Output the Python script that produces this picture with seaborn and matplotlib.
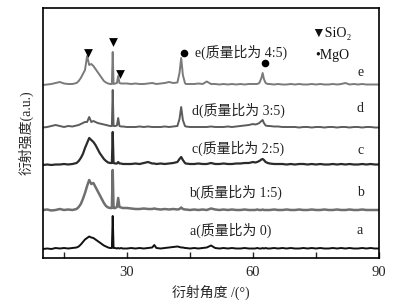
import numpy as np
import pandas as pd
import matplotlib
matplotlib.use("Agg")
import matplotlib.pyplot as plt
import seaborn as sns

# ---- data (2theta grid shared by all samples) ----
angles = ([10, 11, 12, 13, 14, 15, 16, 17, 18]
          + [18.5, 19, 19.5, 20, 20.5, 21, 21.5, 22, 22.5, 23, 23.5, 24, 24.5, 25, 25.5, 26]
          + [26.4, 26.6, 26.8]
          + [27.2, 27.6, 27.9, 28.2, 28.6, 29]
          + [30, 31, 32, 33, 34, 35, 36]
          + [36.5]
          + [37, 38, 39, 40, 41, 42]
          + [42.5, 42.9, 43.3, 43.8]
          + list(range(44, 61))
          + [60.5, 61, 61.5, 62, 62.3, 62.6, 63, 63.5]
          + list(range(64, 91)))

int_a = ([0, 0.5, 0, 1, 0.5, 1, 0.5, 1, 1.5]
         + [2.5, 4.5, 7, 9.5, 11, 12.5, 11.5, 11, 9.5, 8, 6.5, 5, 3.5, 2.5, 1.5, 1]
         + [1, 33, 1]
         + [1, 0.5, 1, 0.5, 1, 0.5]
         + [0.5, 1, 0.5, 1, 0.5, 1, 1.5]
         + [4]
         + [1, 0.5, 1, 1.5, 2, 2.5]
         + [2, 1.5, 1.5, 1]
         + [1, 0.5, 1, 0.5, 1, 1.5, 3.5, 1, 0.5, 1, 0.5, 1, 0.5, 0.5, 1, 0.5, 0.5]
         + [0.5, 1, 0.5, 0.5, 1, 0.5, 1, 0.5]
         + [0.5, 1, 0.5, 1, 0.5, 1, 0.5, 0.5, 1, 0.5, 1, 0.5, 1, 0.5, 0.5, 1, 0.5, 1,
            0.5, 1, 0.5, 0.5, 1, 0.5, 1, 0.5, 0.5])

int_b = ([1, 1.5, 0.5, 1, 2, 1, 1.5, 1, 2]
         + [4, 7, 12, 18, 25, 31, 27, 28, 24, 20, 16, 12, 8, 5, 3.5, 3]
         + [3, 41, 3]
         + [3, 4, 13, 4, 3.5, 3]
         + [3, 2.5, 2, 2, 2.5, 2, 2]
         + [2.5]
         + [2, 1.5, 2, 1.5, 2, 1.5]
         + [2, 3.5, 2, 1.5]
         + [1.5, 1, 1.5, 1, 1.5, 1, 2.5, 1.5, 1, 1.5, 1, 1.5, 1, 1, 1.5, 1, 1]
         + [1, 1.5, 1, 1, 1.5, 1, 1, 1]
         + [1, 1.5, 1, 1, 1.5, 1, 1, 1.5, 1, 1, 1.5, 1, 1, 1.5, 1, 1, 1.5, 1, 1, 1.5,
            1, 1, 1.5, 1, 1, 1, 1])

int_c = ([0, 0.5, 0, 0.5, 0.5, 1, 0.5, 1, 2]
         + [4, 7, 11, 17, 22, 27, 25, 23, 20, 16, 12, 9, 6, 4, 2.5, 2]
         + [2, 33, 2]
         + [1.5, 1.5, 3, 1.5, 1.5, 1]
         + [1, 1, 1.5, 1, 2, 3, 1.5]
         + [1.5]
         + [1, 1.5, 1, 1.5, 2, 3]
         + [6, 8, 5, 2]
         + [1.5, 1, 1, 1.5, 1, 1, 2, 1, 1, 1.5, 1, 1, 1.5, 1.5, 2, 2, 3]
         + [2.5, 3, 4, 5.5, 6, 5, 3, 2]
         + [1.5, 1, 1, 1, 0.5, 1, 0.5, 1, 1, 0.5, 1, 0.5, 1, 0.5, 0.5, 1, 0.5, 1,
            0.5, 1, 0.5, 0.5, 1, 0.5, 1, 0.5, 0.5])

int_d = ([0.5, 1, 2, 3, 2, 1, 2, 1.5, 2.5]
         + [3, 4, 5, 6, 6, 11, 6, 7, 6, 5, 4.5, 4, 3.5, 3, 2.5, 2]
         + [2, 38, 2]
         + [2, 2.5, 10, 2, 1.5, 1.5]
         + [1, 1, 1, 1.5, 1, 1.5, 1]
         + [1]
         + [1, 1, 1.5, 1, 1.5, 2]
         + [9, 21, 8, 2]
         + [1.5, 1, 1, 1, 1, 1, 1.5, 1, 1, 1, 1.5, 1, 1.5, 2, 2.5, 3, 4]
         + [3.5, 4, 5, 7, 8, 5, 2.5, 2]
         + [2, 1.5, 1.5, 1, 1, 1, 1, 0.5, 1, 1, 0.5, 1, 1, 0.5, 1, 1, 0.5, 1, 1,
            0.5, 1, 1, 0.5, 1, 1, 0.5, 0.5])

int_e = ([0, 0.5, 1, 2, 3, 1.5, 1, 1, 2]
         + [4, 7, 11, 15, 29, 20, 21, 19, 16, 13, 10, 7, 4, 2.5, 1.5, 1]
         + [1, 33, 1]
         + [1.5, 2, 9, 2, 1.5, 1.5]
         + [1.5, 1, 1.5, 1, 1, 1.5, 2]
         + [1.5]
         + [1, 1.5, 2, 3, 2, 2.5]
         + [12, 27, 10, 2]
         + [1, 1, 1, 1.5, 1, 3.5, 1, 1, 0.5, 1, 0.5, 1, 0.5, 1, 0.5, 1, 1]
         + [1, 1, 2, 7, 12, 6, 2, 1]
         + [1, 0.5, 1, 0.5, 0.5, 1, 0.5, 1, 0.5, 0.5, 1, 0.5, 1, 0.5, 0.5, 1, 0.5, 1,
            2, 0.5, 1, 0.5, 1, 0.5, 0.5, 0.5, 0.5])

samples = ["a", "b", "c", "d", "e"]
ratios = ["0", "1:5", "2:5", "3:5", "4:5"]
intensities = [int_a, int_b, int_c, int_d, int_e]
offsets = [9, 47, 93, 130, 173]
colors = ["#111111", "#6f6f6f", "#2b2b2b", "#5c5c5c", "#7a7a7a"]
linewidths = [1.4, 1.8, 1.6, 1.4, 1.4]

sio2_angles = [20.8, 26.6, 28.3]
sio2_levels = [205, 216, 184]
mgo_angles = [43.6, 62.8]
mgo_levels = [205, 195]

for arr in intensities:
    assert len(arr) == len(angles), len(arr)

rows = []
for s, vals, off in zip(samples, intensities, offsets):
    for x, v in zip(angles, vals):
        rows.append({"angle": x, "intensity": v + off, "sample": s})
df = pd.DataFrame(rows)

sns.set_style("ticks")
plt.rcParams["font.family"] = ["Liberation Serif", "Noto Sans CJK SC", "DejaVu Sans"]
mixed = ["Liberation Serif", "Noto Sans CJK SC", "DejaVu Sans"]

fig = plt.figure(figsize=(4.09, 3.02), dpi=100)
ax = fig.add_axes([43 / 409, 44 / 302, 336 / 409, 250 / 302])

for s, c, lw in zip(samples, colors, linewidths):
    sns.lineplot(data=df[df["sample"] == s], x="angle", y="intensity", color=c,
                 linewidth=lw, estimator=None, sort=False, ax=ax, legend=False)

ax.scatter(sio2_angles, sio2_levels, marker="v", s=40, color="black", zorder=5, linewidths=0)
ax.scatter(mgo_angles, mgo_levels, marker="o", s=30, color="black", zorder=5, linewidths=0)

label_x = [45.0, 44.8, 45.5, 45.5, 46.2]
label_y = [28, 66, 110, 148, 206]
right_y = [28, 66, 107, 150, 186]
for s, r, lx, ly, ry in zip(samples, ratios, label_x, label_y, right_y):
    ax.text(lx, ly, f"{s}(质量比为 {r})", fontsize=10, family=mixed,
            ha="left", va="center", color="#222222")
    ax.text(85.5, ry, s, fontsize=10, family=mixed, ha="center", va="center",
            color="#222222")

ax.text(73.8, 225, "▼SiO₂", fontsize=10, family=["Liberation Serif", "DejaVu Sans"],
        ha="left", va="center", color="#111111")
ax.text(74.8, 203, "•MgO", fontsize=10, family=["Liberation Serif", "DejaVu Sans"],
        ha="left", va="center", color="#111111")

ax.set_xlim(10, 90)
ax.set_ylim(0, 250)
ax.set_xticks([30, 60, 90])
ax.set_xticks([15, 45, 75], minor=True)
ax.set_xticklabels(["30", "60", "90"], fontsize=10.5, family="Liberation Serif")
ax.set_yticks([])
ax.tick_params(axis="x", which="both", direction="in", length=4, width=1, pad=6)
for sp in ax.spines.values():
    sp.set_linewidth(1.2)
    sp.set_color("black")

ax.set_xlabel("衍射角度 /(°)", fontsize=10, family=mixed, labelpad=4)
ax.set_ylabel("衍射强度(a.u.)", fontsize=10, family=mixed, labelpad=7)

fig.savefig("out.png", dpi=100)
